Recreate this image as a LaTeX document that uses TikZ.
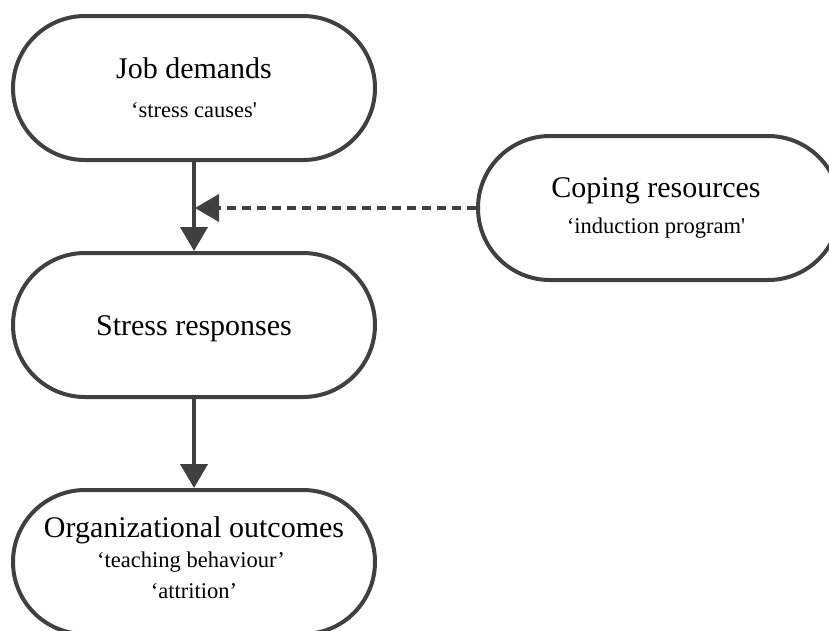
\documentclass[tikz,border=0pt]{standalone}
\usepackage{fontspec}
\setmainfont{Liberation Serif}
\usetikzlibrary{arrows.meta}
\definecolor{ink}{HTML}{404040}
\tikzset{
  stadium/.style={draw=ink, line width=4pt, rounded corners=72pt, minimum width=362pt, minimum height=144pt, inner sep=0pt},
  ttl/.style={anchor=base, inner sep=0pt, font=\fontsize{30}{35}\selectfont},
  sub/.style={anchor=base, inner sep=0pt, font=\fontsize{22.5}{27}\selectfont},
  conn/.style={draw=ink, line width=4pt, -{Triangle[length=24pt,width=27pt]}},
  dconn/.style={conn, dash pattern=on 9pt off 6pt}
}
\begin{document}
\begin{tikzpicture}[x=1pt,y=-1pt]
\useasboundingbox (0,0) rectangle (829,630);
\clip (0,0) rectangle (829,630);
\node[stadium] (jd) at (194,88) {};
\node[stadium] (sr) at (194,325) {};
\node[stadium] (oo) at (194,562) {};
\node[stadium] (cr) at (659,208) {};
\node[ttl] (jdt) at (194,78) {Job demands};
\node[sub] (jds) at (194,117) {\textquoteleft stress causes\textquotesingle};
\node[ttl] (crt) at (656,197) {Coping resources};
\node[sub] (crs) at (656,233) {\textquoteleft induction program\textquotesingle};
\node[ttl] (srt) at (194,335) {Stress responses};
\node[ttl] (oot) at (194,537) {Organizational outcomes};
\node[sub] (oos) at (191,567) {\textquoteleft teaching behaviour\textquoteright};
\node[sub] (ooa) at (194,598) {\textquoteleft attrition\textquoteright};
\coordinate (m) at (jd.south |- cr.west);
\draw[conn] (jd.south) -- (sr.north);
\draw[conn] (sr.south) -- (oo.north);
\draw[dconn] (cr.west) -- ([xshift=1pt]m);
\end{tikzpicture}
\end{document}
